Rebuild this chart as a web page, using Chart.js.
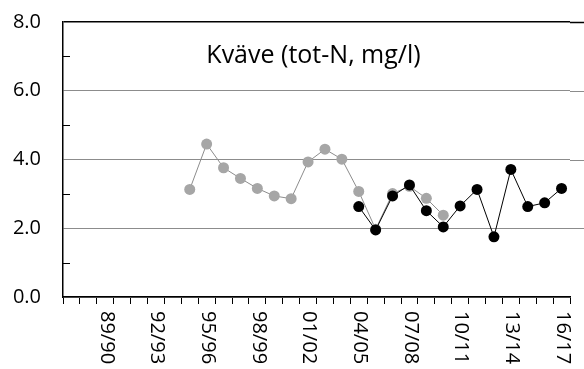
<!DOCTYPE html>
<html>
<head>
<meta charset="utf-8">
<script src="https://cdn.jsdelivr.net/npm/chart.js@4.4.1/dist/chart.umd.min.js"></script>
<style>
  html, body { margin: 0; padding: 0; background: #fff; }
  #wrap { width: 584px; height: 369px; }
</style>
</head>
<body>
<div id="wrap"><canvas id="kvaveChart"></canvas></div>
<script>
// seasons on the x axis
const categories = ['87/88', '88/89', '89/90', '90/91', '91/92', '92/93', '93/94', '94/95', '95/96', '96/97',
    '97/98', '98/99', '99/00', '00/01', '01/02', '02/03', '03/04', '04/05', '05/06', '06/07',
    '07/08', '08/09', '09/10', '10/11', '11/12', '12/13', '13/14', '14/15', '15/16', '16/17'];
const shownLabels = ['89/90', '92/93', '95/96', '98/99', '01/02', '04/05', '07/08', '10/11', '13/14', '16/17'];

// grey series (older), 94/95 - 09/10
const greySeries = [null, null, null, null, null, null, null, 3.13, 4.45, 3.76,
    3.45, 3.16, 2.94, 2.86, 3.93, 4.30, 4.01, 3.07, 1.97, 3.01,
    3.22, 2.87, 2.38, null, null, null, null, null, null, null];
// black series, 04/05 - 16/17
const blackSeries = [null, null, null, null, null, null, null, null, null, null,
    null, null, null, null, null, null, null, 2.63, 1.95, 2.94,
    3.26, 2.51, 2.04, 2.65, 3.13, 1.75, 3.71, 2.63, 2.74, 3.16];

const yTicks = [0, 2, 4, 6, 8];
const yMinor = [1, 3, 5, 7];
const titleText = 'Kväve (tot-N, mg/l)';

const FONT = '"Open Sans", "Liberation Sans", sans-serif';

// extras: title inside plot, minor y ticks, gridlines to the right edge, rotated x labels
const extrasPlugin = {
    id: 'extras',
    afterDraw(chart) {
        const ctx = chart.ctx;
        const area = chart.chartArea;
        const x = chart.scales.x;
        const y = chart.scales.y;
        ctx.save();

        // gridlines run on past the last category
        yTicks.forEach(v => {
            if (v === 0) return;
            const py = Math.round(y.getPixelForValue(v)) + 0.5;
            ctx.strokeStyle = v === 8 ? '#000' : '#8c8c8c';
            ctx.lineWidth = v === 8 ? 1.5 : 1;
            ctx.beginPath();
            ctx.moveTo(area.right, py);
            ctx.lineTo(chart.width, py);
            ctx.stroke();
        });

        // minor ticks on the inside of the y axis
        ctx.strokeStyle = '#000';
        ctx.lineWidth = 1;
        yMinor.forEach(v => {
            const py = Math.round(y.getPixelForValue(v)) + 0.5;
            ctx.beginPath();
            ctx.moveTo(area.left, py);
            ctx.lineTo(area.left + 7, py);
            ctx.stroke();
        });

        // title
        ctx.fillStyle = '#000';
        ctx.font = '25px ' + FONT;
        ctx.textAlign = 'center';
        ctx.textBaseline = 'alphabetic';
        ctx.fillText(titleText, (area.left + area.right) / 2 - 3, area.top + 41);

        // x labels, turned clockwise
        ctx.font = '20px ' + FONT;
        ctx.textAlign = 'left';
        ctx.textBaseline = 'middle';
        categories.forEach((c, i) => {
            if (!shownLabels.includes(c)) return;
            ctx.save();
            ctx.translate(x.getPixelForValue(i) + 1, area.bottom + 14);
            ctx.rotate(Math.PI / 2);
            ctx.fillText(c, 0, 0);
            ctx.restore();
        });
        ctx.restore();
    }
};

new Chart(document.getElementById('kvaveChart'), {
    type: 'line',
    data: {
        labels: categories,
        datasets: [{
            label: 'Serie 2',
            data: blackSeries,
            borderColor: '#000',
            backgroundColor: '#000',
            borderWidth: 1,
            pointRadius: 5.5,
            pointBorderWidth: 0,
            pointBackgroundColor: '#000',
            order: 0
        }, {
            label: 'Serie 1',
            data: greySeries,
            borderColor: '#8c8c8c',
            backgroundColor: '#a6a6a6',
            borderWidth: 1,
            pointRadius: 5.5,
            pointBorderWidth: 0,
            pointBackgroundColor: '#a6a6a6',
            order: 1
        }]
    },
    options: {
        responsive: true,
        maintainAspectRatio: false,
        animation: false,
        layout: { padding: { top: 22, right: 14, left: 0, bottom: 0 } },
        plugins: {
            legend: { display: false },
            tooltip: { enabled: false }
        },
        scales: {
            x: {
                offset: true,
                grid: {
                    offset: true,
                    drawOnChartArea: false,
                    color: '#000',
                    tickLength: 7
                },
                border: { color: '#000', width: 1.5 },
                ticks: { display: false },
                afterFit(scale) { scale.height = 72; scale.paddingLeft = 0; scale.paddingRight = 0; }
            },
            y: {
                min: 0,
                max: 8,
                ticks: {
                    stepSize: 2,
                    padding: 22,
                    color: '#000',
                    font: { family: FONT, size: 20 },
                    callback: v => v.toFixed(1)
                },
                grid: {
                    drawTicks: false,
                    color: c => c.tick.value === 8 ? '#000' : '#8c8c8c',
                    lineWidth: c => c.tick.value === 8 ? 1.5 : 1
                },
                border: { color: '#000', width: 1.5 },
                afterFit(scale) { scale.width = 63; scale.paddingTop = 0; scale.paddingBottom = 0; }
            }
        }
    },
    plugins: [extrasPlugin]
});
</script>
</body>
</html>
